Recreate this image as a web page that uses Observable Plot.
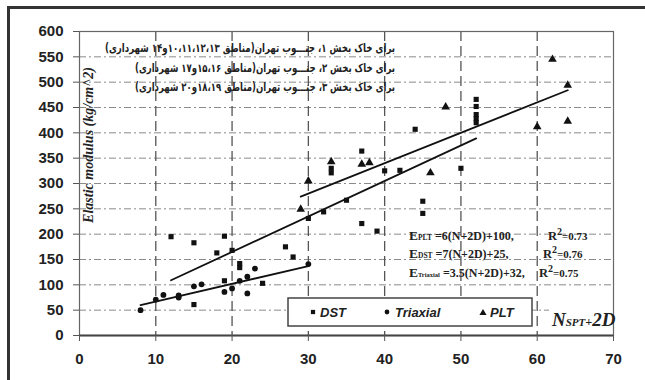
<!DOCTYPE html>
<html><head><meta charset="utf-8">
<script src="https://cdn.jsdelivr.net/npm/d3@7"></script>
<script src="https://cdn.jsdelivr.net/npm/@observablehq/plot@0.6"></script>
<style>
body{margin:0;background:#fff;}
#wrap{position:relative;width:645px;height:380px;overflow:hidden;background:#fff;}
#wrap svg{position:absolute;left:0;top:0;}
#border{position:absolute;left:7px;top:6px;width:700px;height:420px;border-left:3px solid #333;border-top:3px solid #333;pointer-events:none;}
</style></head><body><div id="wrap"><div id="border"></div></div>
<script>
// ---- data ----
const xTicks = [0, 10, 20, 30, 40, 50, 60, 70];
const yTicks = [0, 50, 100, 150, 200, 250, 300, 350, 400, 450, 500, 550, 600];
const xGrid = [10, 20, 30, 40, 50, 60];
const yGrid = [50, 100, 150, 200, 250, 300, 350, 400, 450, 500, 550];

const dstX = [12, 15, 19, 18, 20, 21, 21, 19, 15, 24, 27, 28, 30, 32, 33, 33, 35, 37, 37, 39, 40, 42, 44, 45, 45, 50, 52, 52, 52, 52, 52];
const dstY = [195, 183, 196, 163, 168, 142, 134, 108, 61, 103, 175, 155, 231, 244, 330, 321, 267, 364, 221, 206, 325, 326, 407, 265, 241, 330, 466, 452, 436, 428, 420];

const triX = [8, 10, 11, 13, 13, 15, 16, 19, 20, 21, 22, 22, 23, 30];
const triY = [50, 71, 80, 79, 75, 97, 101, 86, 93, 108, 116, 83, 132, 141];

const pltX = [29, 30, 33, 37, 38, 46, 48, 60, 62, 64, 64];
const pltY = [249, 305, 343, 338, 341, 321, 451, 412, 545, 494, 423];

const fitSeries = ["DST", "Triaxial", "PLT"];
const fitSlope = [7, 3.5, 6];
const fitIntercept = [25, 32, 100];
const fitStart = [12, 8, 29];
const fitEnd = [52, 30, 64];

const notes = [
  "برای خاک بخش ۱، جنـــوب تهران(مناطق ۱۰،۱۱،۱۲،۱۳و۱۴ شهرداری)",
  "برای خاک بخش ۲، جنـــوب تهران(مناطق ۱۵،۱۶و۱۷ شهرداری)",
  "برای خاک بخش ۳، جنـــوب تهران(مناطق ۱۸،۱۹و۲۰ شهرداری)"
];
const eqSub = ["PLT", "DST", "Triaxial"];
const eqBody = [" =6(N+2D)+100,", " =7(N+2D)+25,", " =3.5(N+2D)+32,"];
const eqR2 = ["=0.73", "=0.76", "=0.75"];
const legendNames = ["DST", "Triaxial", "PLT"];

// ---- build ----
const rows = (xs, ys) => xs.map((x, i) => ({x, y: ys[i]}));
const fitPts = fitSeries.flatMap((s, i) => [fitStart[i], fitEnd[i]].map(x => ({s, x, y: fitSlope[i] * x + fitIntercept[i]})));

const chart = Plot.plot({
  width: 645, height: 380,
  marginLeft: 79, marginRight: 32, marginTop: 31, marginBottom: 45,
  x: {domain: [0, 70]},
  y: {domain: [0, 600]},
  style: {fontFamily: "'Liberation Sans', Arial, sans-serif", fontSize: "15px", fontWeight: "bold", color: "#222", background: "transparent"},
  marks: [
    Plot.ruleY(yGrid, {stroke: "#8a8a8a", strokeDasharray: "7,3,2,3", strokeWidth: 1}),
    Plot.ruleX(xGrid, {stroke: "#555", strokeDasharray: "10,5", strokeWidth: 1.3}),
    Plot.frame({stroke: "#666", strokeWidth: 1.2}),
    Plot.ruleY([0], {stroke: "#444", strokeWidth: 2}),
    Plot.axisY({ticks: yTicks, tickSize: 6, tickPadding: 10, label: null, stroke: "#555", fill: "#222"}),
    Plot.axisX({ticks: xTicks, tickSize: 6, tickPadding: 12, label: null, stroke: "#555", fill: "#222"}),
    Plot.line(fitPts, {x: "x", y: "y", z: "s", stroke: "#111", strokeWidth: 1.8}),
    Plot.dot(rows(dstX, dstY), {x: "x", y: "y", symbol: "square", fill: "#111", r: 2.9}),
    Plot.dot(rows(triX, triY), {x: "x", y: "y", symbol: "circle", fill: "#111", r: 2.9}),
    Plot.dot(rows(pltX, pltY), {x: "x", y: "y", symbol: "triangle", fill: "#111", r: 3.2})
  ]
});
document.getElementById("wrap").prepend(chart);

const svg = d3.select(chart);
const g = svg.append("g").attr("text-anchor", "start");

// Persian notes
const noteLen = [290, 260, 260];
notes.forEach((t, i) => {
  g.append("text")
    .attr("x", 395).attr("y", [52, 71.5, 91][i])
    .attr("direction", "rtl").attr("text-anchor", "start")
    .attr("textLength", noteLen[i]).attr("lengthAdjust", "spacingAndGlyphs")
    .style("font", "bold 11.5px 'DejaVu Sans', sans-serif")
    .attr("fill", "#222")
    .text(t);
});

// Y title
g.append("text")
  .attr("transform", "translate(93,145) rotate(-90)")
  .attr("text-anchor", "middle")
  .style("font", "italic bold 14px 'Liberation Serif', serif")
  .attr("fill", "#222")
  .text("Elastic modulus (kg/cm^2)");

// equations
const eqY = [239.5, 258, 276.5];
const rX = [548, 543, 539];
eqSub.forEach((s, i) => {
  const t = g.append("text").attr("x", 409).attr("y", eqY[i]).attr("text-anchor", "start")
    .style("font-family", "'Liberation Serif', serif").style("font-weight", "bold").attr("fill", "#222");
  t.append("tspan").style("font-size", "13.5px").text("E");
  t.append("tspan").style("font-size", i === 2 ? "6.5px" : "7.5px").text(s);
  t.append("tspan").style("font-size", "12px").text(eqBody[i]);
  const r = g.append("text").attr("x", rX[i]).attr("y", eqY[i]).attr("text-anchor", "start")
    .style("font-family", "'Liberation Serif', serif").style("font-weight", "bold").attr("fill", "#222");
  r.append("tspan").style("font-size", "12.5px").text("R");
  r.append("tspan").style("font-size", "10px").attr("dy", -5).text("2");
  r.append("tspan").style("font-size", "11px").attr("dy", 5).text(eqR2[i]);
});

// legend box
g.append("rect").attr("x", 288).attr("y", 298).attr("width", 244).attr("height", 28)
  .attr("fill", "#fff").attr("stroke", "#444").attr("stroke-width", 1.5);
const symTypes = [d3.symbolSquare, d3.symbolCircle, d3.symbolTriangle];
const symX = [313, 387, 483];
const txtX = [320, 395, 490];
legendNames.forEach((n, i) => {
  g.append("path").attr("d", d3.symbol().type(symTypes[i]).size(i === 2 ? 22 : 18)())
    .attr("transform", `translate(${symX[i]},${i === 2 ? 313 : 312})`).attr("fill", "#111");
  g.append("text").attr("x", txtX[i]).attr("y", 312).attr("dy", "0.36em").attr("text-anchor", "start")
    .style("font", "italic bold 13px 'Liberation Sans', Arial, sans-serif").attr("fill", "#222")
    .text(n);
});

// x axis title
g.append("rect").attr("x", 549).attr("y", 305).attr("width", 63).attr("height", 26).attr("fill", "#fff");
const xt = g.append("text").attr("x", 552).attr("y", 326).attr("text-anchor", "start")
  .style("font-family", "'Liberation Serif', serif").style("font-style", "italic").attr("fill", "#222");
xt.append("tspan").style("font-size", "19px").text("N");
xt.append("tspan").style("font-size", "11px").text("SPT");
xt.append("tspan").style("font-size", "12px").text("+");
xt.append("tspan").style("font-size", "19px").text("2D");
</script>
</body></html>
